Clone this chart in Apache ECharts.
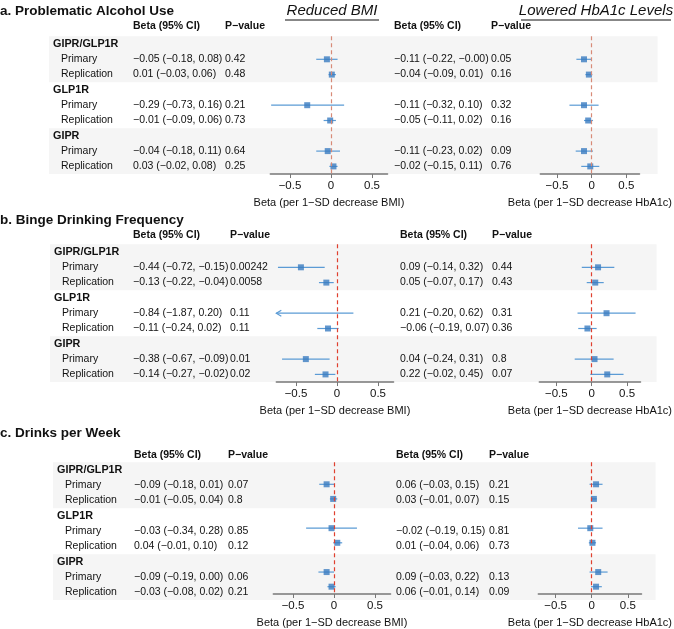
<!DOCTYPE html>
<html>
<head>
<meta charset="utf-8">
<script src="https://cdn.jsdelivr.net/npm/echarts@6/dist/echarts.min.js"></script>
<style>html,body{margin:0;background:#fff}#chart{width:674px;height:629px}</style>
</head>
<body>
<div id="chart"></div>
<script>
const panelTitles = ['a. Problematic Alcohol Use', 'b. Binge Drinking Frequency', 'c. Drinks per Week'];
const groups = ['GIPR/GLP1R', 'GLP1R', 'GIPR'];
const subRows = ['Primary', 'Replication'];

// [beta, lower, upper] per row: GIPR/GLP1R primary, replication, GLP1R ..., GIPR ...
const alcBmi = [[-0.05, -0.18, 0.08], [0.01, -0.03, 0.06], [-0.29, -0.73, 0.16], [-0.01, -0.09, 0.06], [-0.04, -0.18, 0.11], [0.03, -0.02, 0.08]];
const alcBmiP = ['0.42', '0.48', '0.21', '0.73', '0.64', '0.25'];
const alcHb = [[-0.11, -0.22, -0.004], [-0.04, -0.09, 0.01], [-0.11, -0.32, 0.10], [-0.05, -0.11, 0.02], [-0.11, -0.23, 0.02], [-0.02, -0.15, 0.11]];
const alcHbP = ['0.05', '0.16', '0.32', '0.16', '0.09', '0.76'];

const bingeBmi = [[-0.44, -0.72, -0.15], [-0.13, -0.22, -0.04], [-0.84, -1.87, 0.20], [-0.11, -0.24, 0.02], [-0.38, -0.67, -0.09], [-0.14, -0.27, -0.02]];
const bingeBmiP = ['0.00242', '0.0058', '0.11', '0.11', '0.01', '0.02'];
const bingeHb = [[0.09, -0.14, 0.32], [0.05, -0.07, 0.17], [0.21, -0.20, 0.62], [-0.06, -0.19, 0.07], [0.04, -0.24, 0.31], [0.22, -0.02, 0.45]];
const bingeHbP = ['0.44', '0.43', '0.31', '0.36', '0.8', '0.07'];

const drinksBmi = [[-0.09, -0.18, 0.01], [-0.01, -0.05, 0.04], [-0.03, -0.34, 0.28], [0.04, -0.01, 0.10], [-0.09, -0.19, 0.00], [-0.03, -0.08, 0.02]];
const drinksBmiP = ['0.07', '0.8', '0.85', '0.12', '0.06', '0.21'];
const drinksHb = [[0.06, -0.03, 0.15], [0.03, -0.01, 0.07], [-0.02, -0.19, 0.15], [0.01, -0.04, 0.06], [0.09, -0.03, 0.22], [0.06, -0.01, 0.14]];
const drinksHbP = ['0.21', '0.15', '0.81', '0.73', '0.13', '0.09'];

const xTicks = [-0.5, 0, 0.5];
const xMin = -0.74, xMax = 0.69;

// layout per panel
const panels = [
  { top: 44, titleY: 3, headY: 20, lab: 53, beta: 133, p: 225, rbeta: 394, rp: 491, l0: 331, r0: 601, bmi: alcBmi, bmiP: alcBmiP, hb: alcHb, hbP: alcHbP, ref: '#d88a77' },
  { top: 252, titleY: 212, headY: 229, lab: 54, beta: 133, p: 230, rbeta: 400, rp: 492, l0: 337, r0: 600, bmi: bingeBmi, bmiP: bingeBmiP, hb: bingeHb, hbP: bingeHbP, ref: '#e0402f' },
  { top: 470, titleY: 425, headY: 449, lab: 57, beta: 134, p: 228, rbeta: 396, rp: 489, l0: 334, r0: 599, bmi: drinksBmi, bmiP: drinksBmiP, hb: drinksHb, hbP: drinksHbP, ref: '#e0402f' }
];
const rowH = 15.3;
const unit = 82; // px per beta unit
const font = 'Liberation Sans, Arial, sans-serif';

function fmt(v) {
  return v.toFixed(2).replace('-', '\u2212');
}
function ciText(r) {
  return fmt(r[0]) + ' (' + fmt(r[1]) + ', ' + fmt(r[2]) + ')';
}
function rowIndex(k) {
  // data row k (0..5) -> display row
  return Math.floor(k / 2) * 3 + 1 + (k % 2);
}

const graphic = [];
const grid = [], xAxis = [], yAxis = [], series = [];

function txt(x, y, text, opt) {
  graphic.push({
    type: 'text', x: x, y: y,
    style: Object.assign({ text: text, font: '10.5px ' + font, fill: '#111', textVerticalAlign: 'middle' }, opt || {})
  });
}

function forestRenderer(color) {
  return function (params, api) {
    const y = api.value(3);
    const lo = api.coord([Math.max(api.value(1), xMin), y]);
    const hi = api.coord([Math.min(api.value(2), xMax), y]);
    const children = [{
      type: 'line', shape: { x1: lo[0], y1: lo[1], x2: hi[0], y2: hi[1] },
      style: { stroke: color, lineWidth: 1.2 }
    }];
    if (api.value(1) < xMin) {
      children.push({
        type: 'polyline', shape: { points: [[lo[0] + 5, lo[1] - 3], [lo[0], lo[1]], [lo[0] + 5, lo[1] + 3]] },
        style: { stroke: color, lineWidth: 1.2, fill: null }
      });
    }
    return { type: 'group', children: children };
  };
}

panels.forEach(function (pn, pi) {
  const gTop = pn.top - rowH / 2;
  const gH = rowH * 9;
  // bands
  [0, 6].forEach(function (r) {
    graphic.push({ type: 'rect', z: -10, shape: { x: pn.lab - 4, y: gTop + r * rowH, width: (pn.r0 + xMax * unit) - pn.lab + 4, height: rowH * 3 }, style: { fill: '#f5f5f5' } });
  });
  txt(0, pn.titleY + 8, panelTitles[pi], { font: 'bold 13.5px ' + font });
  const hf = { font: 'bold 10.5px ' + font };
  txt(pn.beta, pn.headY + 6, 'Beta (95% CI)', hf);
  txt(pn.p, pn.headY + 6, 'P\u2212value', hf);
  txt(pn.rbeta, pn.headY + 6, 'Beta (95% CI)', hf);
  txt(pn.rp, pn.headY + 6, 'P\u2212value', hf);
  groups.forEach(function (g, gi) {
    txt(pn.lab, pn.top + gi * 3 * rowH, g, { font: 'bold 10.8px ' + font });
    subRows.forEach(function (s, si) {
      const k = gi * 2 + si;
      const y = pn.top + rowIndex(k) * rowH;
      txt(pn.lab + 8, y, s);
      txt(pn.beta, y, ciText(pn.bmi[k]));
      txt(pn.p, y, pn.bmiP[k]);
      txt(pn.rbeta, y, ciText(pn.hb[k]));
      txt(pn.rp, y, pn.hbP[k]);
    });
  });

  [[pn.l0, pn.bmi, 'BMI'], [pn.r0, pn.hb, 'HbA1c']].forEach(function (side) {
    const idx = grid.length;
    const left = side[0] + xMin * unit;
    grid.push({ left: left, top: gTop, width: (xMax - xMin) * unit, height: gH });
    xAxis.push({
      gridIndex: idx, type: 'value', min: xMin, max: xMax, position: 'bottom',
      name: 'Beta (per 1\u2212SD decrease ' + side[2] + ')', nameLocation: 'middle', nameGap: 23,
      nameTextStyle: { fontFamily: font, fontSize: 11, color: '#111' },
      axisLine: { onZero: false, lineStyle: { color: '#777', width: 1.5 } },
      axisTick: { show: true, customValues: xTicks, length: 4, lineStyle: { color: '#777' } },
      axisLabel: { customValues: xTicks, fontFamily: font, fontSize: 11.5, color: '#111', margin: 6,
        formatter: function (v) { return v === 0 ? '0' : String(v).replace('-', '\u2212'); } },
      splitLine: { show: false }
    });
    yAxis.push({ gridIndex: idx, type: 'value', min: -0.5, max: 8.5, inverse: true, show: false });
    const rows = side[1].map(function (r, k) { return [r[0], r[1], r[2], rowIndex(k)]; });
    series.push({
      type: 'custom', xAxisIndex: idx, yAxisIndex: idx, renderItem: forestRenderer('#5b9bd5'),
      encode: { x: [1, 2], y: 3 }, data: rows, clip: false, silent: true,
      markLine: {
        silent: true, symbol: 'none', label: { show: false },
        lineStyle: { color: pn.ref, type: [4, 3], width: 1.2 },
        data: [{ xAxis: 0 }]
      }
    });
    series.push({
      type: 'scatter', xAxisIndex: idx, yAxisIndex: idx, symbol: 'rect', symbolSize: 6,
      itemStyle: { color: '#3a7cc0' }, silent: true, z: 3,
      data: rows.filter(function (r) { return r[0] >= xMin; }).map(function (r) { return [r[0], r[3]]; })
    });
  });
});

// top headings
graphic.push({ type: 'text', x: 332, y: 3, style: { text: 'Reduced BMI', font: 'italic 15px ' + font, fill: '#111', textAlign: 'center' } });
graphic.push({ type: 'line', shape: { x1: 285, y1: 20, x2: 379, y2: 20 }, style: { stroke: '#111', lineWidth: 1 } });
graphic.push({ type: 'text', x: 596, y: 3, style: { text: 'Lowered HbA1c Levels', font: 'italic 15px ' + font, fill: '#111', textAlign: 'center' } });
graphic.push({ type: 'line', shape: { x1: 521, y1: 20, x2: 671, y2: 20 }, style: { stroke: '#111', lineWidth: 1 } });

const chart = echarts.init(document.getElementById('chart'));
chart.setOption({
  animation: false,
  grid: grid, xAxis: xAxis, yAxis: yAxis, series: series,
  graphic: graphic
});
</script>
</body>
</html>
